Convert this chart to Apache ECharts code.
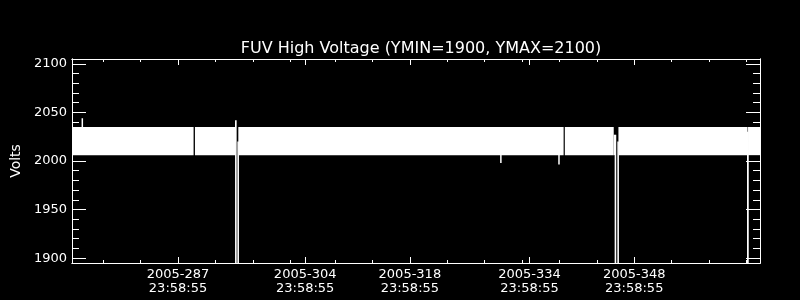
<!DOCTYPE html>
<html>
<head>
<meta charset="utf-8">
<script src="https://cdn.jsdelivr.net/npm/echarts@6/dist/echarts.min.js"></script>
<style>
html,body{margin:0;padding:0;background:#000;}
#chart{width:800px;height:300px;}
</style>
</head>
<body>
<div id="chart"></div>
<script>
// Time is day-of-year 2005 plus fraction of day
const titleText = 'FUV High Voltage (YMIN=1900, YMAX=2100)';
const yName = 'Volts';
const xMin = 273.82, xMax = 365.82;
const yMin = 1895, yMax = 2105;

const majorTickTimes = [287.999, 304.999, 318.999, 334.999, 348.999];
const majorTickLabels = ['2005-287\n23:58:55', '2005-304\n23:58:55', '2005-318\n23:58:55', '2005-334\n23:58:55', '2005-348\n23:58:55'];
const minorTickTimes = [277.999, 282.999, 292.999, 297.999, 302.999, 308.999, 313.999, 323.999, 328.999, 333.999, 338.999, 343.999, 353.999, 358.999, 363.999];
const yMajorTicks = [1900, 1950, 2000, 2050, 2100];
const yMinorTicks = [1910, 1920, 1930, 1940, 1960, 1970, 1980, 1990, 2010, 2020, 2030, 2040, 2060, 2070, 2080, 2090];

// Noisy voltage band: segments of continuous data (start, end, min, max)
const bandStart = [273.82, 290.26, 296.06, 339.72, 346.26, 346.89, 364.22];
const bandEnd   = [290.08, 295.70, 339.56, 346.26, 346.46, 364.16, 365.82];
const bandLow   = [2006, 2006, 2006, 2006, 2006, 2006, 2006];
const bandHigh  = [2035, 2035, 2035, 2035, 2027, 2035, 2035];

// High-voltage drop-outs (time it went down, time it came back, value just before, off value)
const dropDown = [295.73, 346.49, 364.19];
const dropUp   = [296.04, 346.85, 364.21];
const dropPeak = [2042, 2027, 2030];
const dropOff  = [0, 0, 0];
const resumeValue = [2020, 2020, 2020];

// Isolated spikes outside the band
const spikeTime  = [275.20, 331.17, 338.94];
const spikeBase  = [2030, 2010, 2010];
const spikeValue = [2044, 1998, 1996.5];

const bandData = bandStart.map((s, i) => [s, bandEnd[i], bandLow[i], bandHigh[i]]);
const dropData = [];
dropDown.forEach((d, i) => {
  dropData.push([d - 0.02, resumeValue[i]]);
  dropData.push([d, dropPeak[i]]);
  dropData.push([d, dropOff[i]]);
  dropData.push([dropUp[i], dropOff[i]]);
  dropData.push([dropUp[i], resumeValue[i]]);
  dropData.push(null);
});
const spikeData = [];
spikeTime.forEach((t, i) => {
  spikeData.push([t, spikeBase[i]]);
  spikeData.push([t, spikeValue[i]]);
  spikeData.push(null);
});

const FONT = 'DejaVu Sans';
const W = '#ffffff';
function xAxisDef(pos, ticks, len, showLabel) {
  return {
    type: 'value', position: pos, min: xMin, max: xMax,
    axisLine: {show: true, lineStyle: {color: W, width: 1}},
    axisTick: {show: true, inside: true, length: len, customValues: ticks, lineStyle: {color: W, width: 1}},
    axisLabel: showLabel ? {
      show: true, customValues: ticks, color: W, fontFamily: FONT, fontSize: 13, lineHeight: 14, margin: 5,
      formatter: function (v) {
        for (let i = 0; i < majorTickTimes.length; i++) if (Math.abs(v - majorTickTimes[i]) < 0.01) return majorTickLabels[i];
        return '';
      }
    } : {show: false},
    splitLine: {show: false}
  };
}
function yAxisDef(pos, ticks, len, showLabel, name) {
  const a = {
    type: 'value', position: pos, min: yMin, max: yMax,
    axisLine: {show: true, lineStyle: {color: W, width: 1}},
    axisTick: {show: true, inside: true, length: len, customValues: ticks, lineStyle: {color: W, width: 1}},
    axisLabel: showLabel ? {show: true, customValues: ticks, color: W, fontFamily: FONT, fontSize: 13, margin: 5,
      formatter: function (v) { return String(Math.round(v)); }} : {show: false},
    splitLine: {show: false}
  };
  if (name) {
    a.name = name; a.nameLocation = 'middle'; a.nameGap = 48; a.nameRotate = 90;
    a.nameTextStyle = {color: W, fontFamily: FONT, fontSize: 14};
  }
  return a;
}

const chart = echarts.init(document.getElementById('chart'), null, {renderer: 'canvas'});
chart.setOption({
  backgroundColor: '#000000',
  animation: false,
  title: {
    text: titleText, left: 416, top: 36, textAlign: 'center',
    textStyle: {color: W, fontFamily: FONT, fontSize: 16, fontWeight: 'normal'}
  },
  grid: {left: 72, right: 40, top: 59, bottom: 37, containLabel: false, outerBoundsMode: 'none'},
  xAxis: [
    xAxisDef('bottom', majorTickTimes, 6, true),
    xAxisDef('bottom', minorTickTimes, 3, false),
    xAxisDef('top', majorTickTimes, 6, false),
    xAxisDef('top', minorTickTimes, 3, false)
  ],
  yAxis: [
    yAxisDef('left', yMajorTicks, 14, true, yName),
    yAxisDef('left', yMinorTicks, 7, false),
    yAxisDef('right', yMajorTicks, 14, false),
    yAxisDef('right', yMinorTicks, 7, false)
  ],
  series: [
    {
      type: 'custom', xAxisIndex: 0, yAxisIndex: 0,
      encode: {x: [0, 1], y: [2, 3]},
      data: bandData,
      renderItem: function (params, api) {
        const p0 = api.coord([api.value(0), api.value(3)]);
        const p1 = api.coord([api.value(1), api.value(2)]);
        const cs = params.coordSys;
        const r = echarts.graphic.clipRectByRect(
          {x: p0[0], y: p0[1], width: p1[0] - p0[0], height: p1[1] - p0[1]},
          {x: cs.x, y: cs.y, width: cs.width, height: cs.height});
        return r ? {type: 'rect', shape: r, style: {fill: W}} : null;
      }
    },
    {
      type: 'line', xAxisIndex: 0, yAxisIndex: 0, data: dropData, showSymbol: false, symbol: 'none',
      connectNulls: false, clip: true, lineStyle: {color: W, width: 1.6}
    },
    {
      type: 'line', xAxisIndex: 0, yAxisIndex: 0, data: spikeData, showSymbol: false, symbol: 'none',
      connectNulls: false, clip: true, lineStyle: {color: W, width: 1.5}
    }
  ]
});
</script>
</body>
</html>
